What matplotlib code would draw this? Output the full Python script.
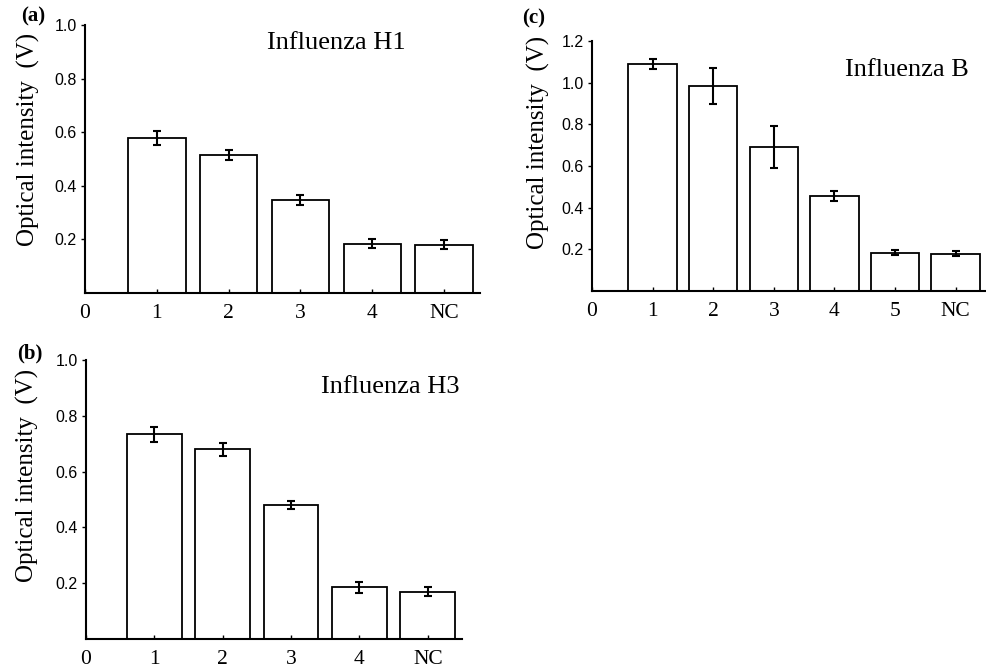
import matplotlib
matplotlib.use("Agg")
import matplotlib.pyplot as plt

# panel (a) - Influenza H1
labels_a = ["1", "2", "3", "4", "NC"]
values_a = [0.578, 0.516, 0.347, 0.184, 0.180]
errors_a = [0.026, 0.019, 0.017, 0.016, 0.016]

# panel (b) - Influenza H3
labels_b = ["1", "2", "3", "4", "NC"]
values_b = [0.734, 0.680, 0.481, 0.185, 0.170]
errors_b = [0.027, 0.023, 0.014, 0.020, 0.017]

# panel (c) - Influenza B
labels_c = ["1", "2", "3", "4", "5", "NC"]
values_c = [1.088, 0.984, 0.691, 0.456, 0.184, 0.179]
errors_c = [0.024, 0.085, 0.100, 0.024, 0.012, 0.012]

SERIF = "Liberation Serif"
SANS = "Liberation Sans"
W, H = 987, 669


def px_axes(fig, left, right, top, bottom):
    return fig.add_axes([left / W, 1 - bottom / H, (right - left) / W, (bottom - top) / H])


def draw_panel(ax, labels, values, errors, ymax, yticks, title, tx, ty):
    pos = list(range(1, len(labels) + 1))
    ax.bar(pos, values, width=0.8, color="white", edgecolor="black", linewidth=1.3)
    ax.errorbar(pos, values, yerr=errors, fmt="none", ecolor="black",
                elinewidth=1.5, capsize=3, capthick=1.5)
    ax.set_xlim(0, len(labels) + 0.5)
    ax.set_ylim(0, ymax)
    ax.set_xticks([0] + pos)
    ax.set_xticklabels(["0"] + labels, fontfamily=SERIF, fontsize=15.5)
    ax.set_yticks(yticks)
    ax.set_yticklabels([f"{t:.1f}" for t in yticks], fontfamily=SANS, fontsize=11.5)
    ax.tick_params(axis="x", direction="in", length=3, width=1, pad=8)
    ax.tick_params(axis="y", direction="out", length=3, width=1, pad=3)
    for s in ["top", "right"]:
        ax.spines[s].set_visible(False)
    for s in ["left", "bottom"]:
        ax.spines[s].set_linewidth(1.5)
    ax.text(tx, ty, title, transform=ax.transAxes, ha="center", va="center",
            fontfamily=SERIF, fontsize=19)


fig = plt.figure(figsize=(W / 100, H / 100), dpi=100)

ax_a = px_axes(fig, 85, 480, 25, 293)
draw_panel(ax_a, labels_a, values_a, errors_a, 1.0, [0.2, 0.4, 0.6, 0.8, 1.0],
           "Influenza H1", 0.637, 0.933)

ax_c = px_axes(fig, 592, 986, 41, 291)
draw_panel(ax_c, labels_c, values_c, errors_c, 1.2, [0.2, 0.4, 0.6, 0.8, 1.0, 1.2],
           "Influenza B", 0.80, 0.883)

ax_b = px_axes(fig, 86, 462, 360, 639)
draw_panel(ax_b, labels_b, values_b, errors_b, 1.0, [0.2, 0.4, 0.6, 0.8, 1.0],
           "Influenza H3", 0.809, 0.903)

# y labels and panel letters
ylab = "Optical intensity  (V)"
for x, y in [(28, 139), (538, 142), (27, 475)]:
    fig.text(x / W, 1 - y / H, ylab, rotation=90, ha="center", va="center",
             fontfamily=SERIF, fontsize=18)
for x, y, t in [(33, 16, "(a)"), (534, 18, "(c)"), (30, 353, "(b)")]:
    fig.text(x / W, 1 - y / H, t, ha="center", va="center",
             fontfamily=SERIF, fontweight="bold", fontsize=15)

fig.savefig("out.png", dpi=100)
